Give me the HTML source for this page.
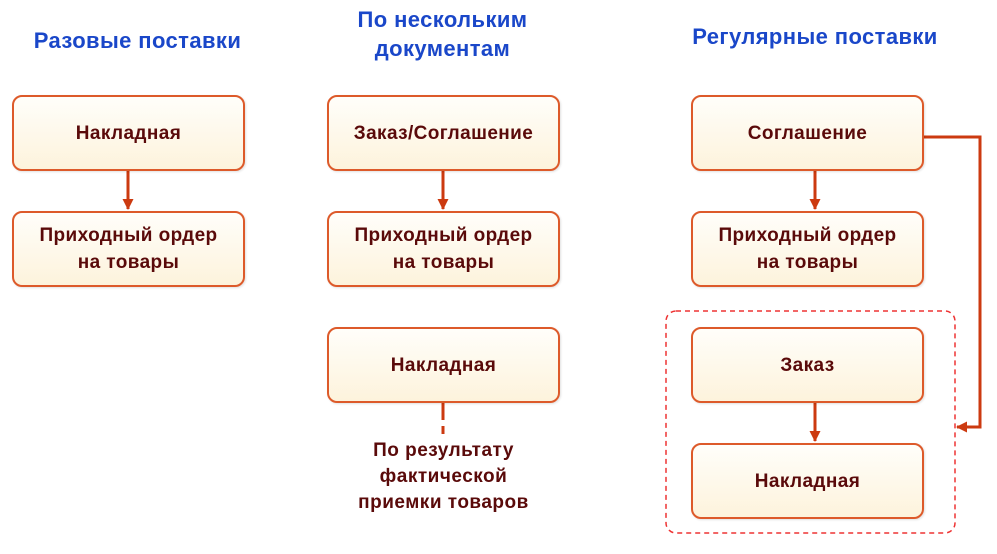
<!DOCTYPE html>
<html><head><meta charset="utf-8"><style>
body{margin:0;width:997px;height:554px;background:#fff;position:relative;font-family:"Liberation Sans",Arial,sans-serif;overflow:hidden}
.t{position:absolute;color:#1a47c9;font-weight:bold;font-size:22px;letter-spacing:0.4px;text-align:center;line-height:29px;white-space:nowrap}
.b{position:absolute;box-sizing:border-box;border:2px solid #dd5a2a;border-radius:10px;background:linear-gradient(#fffefa,#fdf3dc);color:#5a0a0a;font-weight:bold;font-size:19px;letter-spacing:0.4px;display:flex;align-items:center;justify-content:center;text-align:center;line-height:27px;width:233px;height:76px;box-shadow:1px 1px 2px rgba(0,0,0,.12);white-space:nowrap}
.n{position:absolute;color:#5a0a0a;font-weight:bold;font-size:19px;letter-spacing:0.5px;text-align:center;line-height:26px;white-space:nowrap}
</style></head><body>
<div class="t" style="left:0;width:275px;top:26px">Разовые поставки</div>
<div class="t" style="left:300px;width:285px;top:5px">По нескольким<br>документам</div>
<div class="t" style="left:675px;width:280px;top:22px">Регулярные поставки</div>

<svg width="997" height="554" style="position:absolute;left:0;top:0">
<defs><marker id="a" markerWidth="12" markerHeight="12" refX="10" refY="6" orient="auto" markerUnits="userSpaceOnUse"><path d="M0,0.5L11,6L0,11.5z" fill="#cc3a10"/></marker></defs>
<g stroke="#cc3a10" stroke-width="3" fill="none">
<line x1="128" y1="171" x2="128" y2="209" marker-end="url(#a)"/>
<line x1="443" y1="171" x2="443" y2="209" marker-end="url(#a)"/>
<line x1="815" y1="171" x2="815" y2="209" marker-end="url(#a)"/>
<line x1="815" y1="403" x2="815" y2="441" marker-end="url(#a)"/>
<line x1="443" y1="403" x2="443" y2="420"/>
<line x1="443" y1="426" x2="443" y2="434"/>
<polyline points="922,137 980,137 980,427 957,427" marker-end="url(#a)"/>
</g>
<rect x="666" y="311" width="289" height="222" rx="10" fill="none" stroke="#ee3333" stroke-width="1.5" stroke-dasharray="5,4"/>
</svg>

<div class="b" style="left:12px;top:95px">Накладная</div>
<div class="b" style="left:12px;top:211px">Приходный ордер<br>на товары</div>
<div class="b" style="left:327px;top:95px">Заказ/Соглашение</div>
<div class="b" style="left:327px;top:211px">Приходный ордер<br>на товары</div>
<div class="b" style="left:327px;top:327px">Накладная</div>
<div class="n" style="left:327px;width:233px;top:438px">По результату<br>фактической<br>приемки товаров</div>
<div class="b" style="left:691px;top:95px">Соглашение</div>
<div class="b" style="left:691px;top:211px">Приходный ордер<br>на товары</div>
<div class="b" style="left:691px;top:327px">Заказ</div>
<div class="b" style="left:691px;top:443px">Накладная</div>
</body></html>
